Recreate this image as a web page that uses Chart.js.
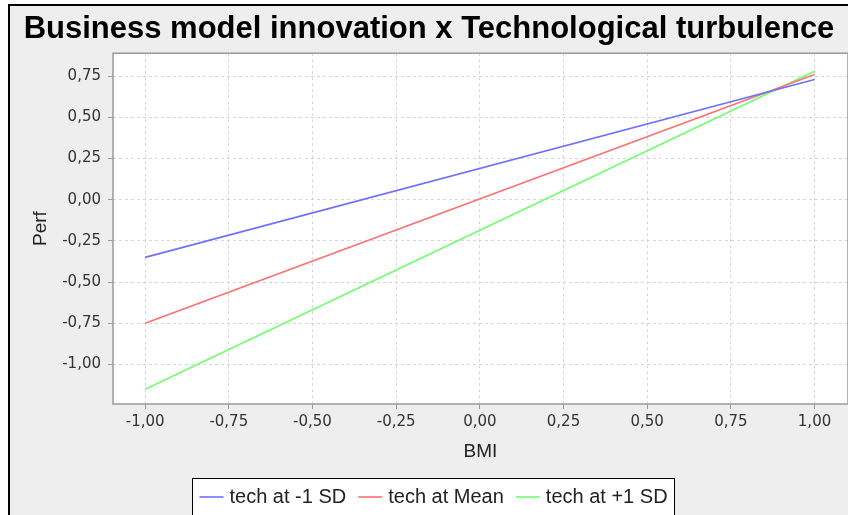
<!DOCTYPE html>
<html>
<head>
<meta charset="utf-8">
<style>
  html, body { margin: 0; padding: 0; background: #fff; overflow: hidden; }
  #frame {
    position: absolute; left: 8px; top: 4px; width: 900px; height: 600px;
    border-left: 2px solid #000; border-top: 2px solid #000; background: #eeeeee;
  }
  #chart { position: absolute; left: 10px; top: 6px; }
</style>
</head>
<body>
<div id="frame"></div>
<canvas id="chart" width="845" height="509"></canvas>
<script src="https://cdn.jsdelivr.net/npm/chart.js@4.4.1/dist/chart.umd.min.js"></script>
<script>
  // values
  const bmi = [-1, 1];
  const techLow = [-0.35, 0.73];
  const techMean = [-0.75, 0.76];
  const techHigh = [-1.15, 0.78];
  const seriesNames = ['tech at -1 SD', 'tech at Mean', 'tech at +1 SD'];
  const seriesColors = ['#6f6fff', '#ff6f6f', '#6fff6f'];

  function pts(ys) {
    return bmi.map((x, i) => ({ x: x, y: ys[i] }));
  }

  function fmt(v) {
    return Number(v).toFixed(2).replace('.', ',');
  }

  // white plot background + grey border
  const plotFrame = {
    id: 'plotFrame',
    beforeDraw(chart) {
      const a = chart.chartArea;
      chart.ctx.save();
      chart.ctx.fillStyle = '#fff';
      chart.ctx.fillRect(a.left, a.top, a.right - a.left, a.bottom - a.top);
      chart.ctx.restore();
    },
    afterDraw(chart) {
      const a = chart.chartArea;
      const ctx = chart.ctx;
      ctx.save();
      ctx.strokeStyle = '#9a9a9a';
      ctx.lineWidth = 1.5;
      ctx.strokeRect(a.left, a.top, a.right - a.left, a.bottom - a.top);
      ctx.restore();
    }
  };

  // boxed legend under the x axis
  const legendBox = {
    id: 'legendBox',
    afterDraw(chart) {
      const ctx = chart.ctx;
      const sets = chart.data.datasets;
      const lineLen = 24, gapText = 6, gapItem = 12, pad = 7;
      ctx.save();
      ctx.font = '20px "Liberation Sans", Arial, sans-serif';
      let total = 0;
      sets.forEach((d, i) => {
        total += lineLen + gapText + ctx.measureText(d.label).width;
        if (i) total += gapItem;
      });
      const boxW = Math.round(total + pad * 2);
      const x0 = Math.round(chart.width / 2 - boxW / 2) + 0.5;
      const top = 472.5;
      ctx.fillStyle = '#fff';
      ctx.fillRect(x0, top, boxW, 45);
      ctx.strokeStyle = '#000';
      ctx.lineWidth = 1;
      ctx.strokeRect(x0, top, boxW, 45);
      let x = x0 + pad;
      const cy = 491;
      sets.forEach((d) => {
        ctx.strokeStyle = d.borderColor;
        ctx.lineWidth = 1.6;
        ctx.beginPath();
        ctx.moveTo(x, cy);
        ctx.lineTo(x + lineLen, cy);
        ctx.stroke();
        x += lineLen + gapText;
        ctx.fillStyle = '#222';
        ctx.textBaseline = 'middle';
        ctx.fillText(d.label, x, cy);
        x += ctx.measureText(d.label).width + gapItem;
      });
      ctx.restore();
    }
  };

  const ctx = document.getElementById('chart').getContext('2d');
  new Chart(ctx, {
    type: 'line',
    data: {
      datasets: [techLow, techMean, techHigh].map((ys, i) => ({
        label: seriesNames[i],
        data: pts(ys),
        borderColor: seriesColors[i],
        borderWidth: 1.6,
        pointRadius: 0,
        fill: false,
        tension: 0
      }))
    },
    options: {
      responsive: false,
      animation: false,
      devicePixelRatio: 1,
      layout: { padding: { left: 0, right: 7, top: 0, bottom: 51 } },
      plugins: {
        legend: { display: false },
        tooltip: { enabled: false },
        title: {
          display: true,
          text: 'Business model innovation x Technological turbulence',
          color: '#000',
          font: { family: '"Liberation Sans", Arial, sans-serif', size: 31, weight: 'bold' },
          padding: { top: 5, bottom: 5 }
        }
      },
      scales: {
        x: {
          type: 'linear',
          min: -1.096,
          max: 1.1,
          afterFit(s) { s.height = 60; },
          border: { display: false, dash: [3, 3] },
          grid: { color: '#d6d6d6', tickColor: '#9a9a9a', tickLength: 5, tickBorderDash: [] },
          ticks: {
            stepSize: 0.25,
            includeBounds: false,
            padding: 4,
            color: '#333',
            maxRotation: 0,
            autoSkip: false,
            font: { family: '"DejaVu Sans", sans-serif', size: 15 },
            callback: fmt
          },
          title: {
            display: true,
            text: 'BMI',
            color: '#222',
            font: { family: '"Liberation Sans", Arial, sans-serif', size: 19 },
            padding: { top: 0, bottom: 1 }
          }
        },
        y: {
          min: -1.24,
          max: 0.889,
          afterFit(s) { s.width = 103; },
          border: { display: false, dash: [3, 3] },
          grid: { color: '#d6d6d6', tickColor: '#9a9a9a', tickLength: 5, tickBorderDash: [] },
          ticks: {
            stepSize: 0.25,
            includeBounds: false,
            padding: 7,
            color: '#333',
            autoSkip: false,
            font: { family: '"DejaVu Sans", sans-serif', size: 15 },
            callback: fmt
          },
          title: {
            display: true,
            text: 'Perf',
            color: '#222',
            font: { family: '"Liberation Sans", Arial, sans-serif', size: 19 },
            padding: { top: 19, bottom: 0 }
          }
        }
      }
    },
    plugins: [plotFrame, legendBox]
  });
</script>
</body>
</html>
